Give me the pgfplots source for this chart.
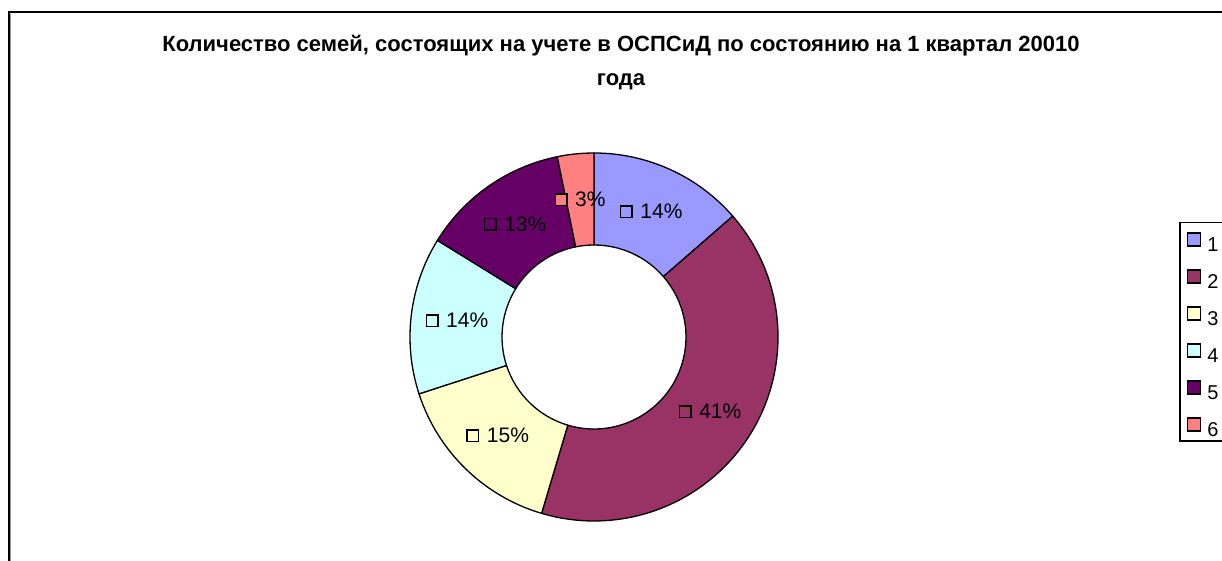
\documentclass[border=0pt]{standalone}
\usepackage{pgfplots}
\pgfplotsset{compat=1.18}
\usepackage{pgfplotstable}
\usepackage{fontspec}
\setmainfont{Liberation Sans}
\definecolor{c1}{HTML}{9999FF}
\definecolor{c2}{HTML}{993366}
\definecolor{c3}{HTML}{FFFFCC}
\definecolor{c4}{HTML}{CCFFFF}
\definecolor{c5}{HTML}{660066}
\definecolor{c6}{HTML}{FF8080}

\pgfplotstableread{
idx val
1 13.6
2 41.0
3 15.4
4 13.8
5 13.0
6 3.2
}\donutdata

\newcommand\lbl[2]{{\setlength\fboxrule{1.5pt}\setlength\fboxsep{0pt}\raisebox{2pt}{\fcolorbox{black}{#1}{\rule{0pt}{10pt}\rule{10pt}{0pt}}}}\hspace{7.5pt}#2\%}
\newcommand\lbfont{\fontsize{21}{25}\selectfont}

\begin{document}
\begin{tikzpicture}
\useasboundingbox (0,0) rectangle (1222pt,560pt);
\clip (0,0) rectangle (1222pt,560pt);
\begin{axis}[
  at={(0,0)}, anchor=south west,
  scale only axis, width=1222pt, height=560pt,
  xmin=0, xmax=1222, ymin=0, ymax=560,
  hide axis, clip=false,
  legend style={at={(axis cs:1179,338)}, anchor=north west, draw=black, line width=1.5pt, fill=white,
    font=\fontsize{20}{23}\selectfont, inner xsep=7pt, inner ysep=2.5pt, row sep=9pt, column sep=4pt,
    nodes={inner sep=2pt, text height=24pt, text depth=0pt}},
  legend cell align=left,
]
\fill[white] (axis cs:0,0) rectangle (axis cs:1222,560);
\draw[black!40, line width=1pt] (axis cs:10.8,546) -- (axis cs:10.8,-20);
\draw[black, line width=2pt] (axis cs:1300,547.5) -- (axis cs:8.5,547.5) -- (axis cs:8.5,-20);

\addlegendimage{legend image code/.code={\draw[fill=c1, draw=black, line width=1.5pt] (0pt,-6.5pt) rectangle (13pt,6.5pt);}}
\addlegendentry{1}
\addlegendimage{legend image code/.code={\draw[fill=c2, draw=black, line width=1.5pt] (0pt,-6.5pt) rectangle (13pt,6.5pt);}}
\addlegendentry{2}
\addlegendimage{legend image code/.code={\draw[fill=c3, draw=black, line width=1.5pt] (0pt,-6.5pt) rectangle (13pt,6.5pt);}}
\addlegendentry{3}
\addlegendimage{legend image code/.code={\draw[fill=c4, draw=black, line width=1.5pt] (0pt,-6.5pt) rectangle (13pt,6.5pt);}}
\addlegendentry{4}
\addlegendimage{legend image code/.code={\draw[fill=c5, draw=black, line width=1.5pt] (0pt,-6.5pt) rectangle (13pt,6.5pt);}}
\addlegendentry{5}
\addlegendimage{legend image code/.code={\draw[fill=c6, draw=black, line width=1.5pt] (0pt,-6.5pt) rectangle (13pt,6.5pt);}}
\addlegendentry{6}

\pgfplotstablegetrowsof{\donutdata}
\pgfmathtruncatemacro{\nrows}{\pgfplotsretval-1}
\def\cum{0}
\pgfplotsforeachungrouped \i in {0,...,\nrows}{%
  \pgfplotstablegetelem{\i}{val}\of{\donutdata}%
  \let\v\pgfplotsretval
  \pgfmathsetmacro{\aS}{90-3.6*\cum}%
  \pgfmathsetmacro{\aE}{90-3.6*(\cum+\v)}%
  \pgfmathsetmacro{\aM}{(\aS+\aE)/2}%
  \pgfmathsetmacro{\xo}{594+184*cos(\aS)}%
  \pgfmathsetmacro{\yo}{223+184*sin(\aS)}%
  \pgfmathsetmacro{\xi}{594+92*cos(\aE)}%
  \pgfmathsetmacro{\yi}{223+92*sin(\aE)}%
  \pgfmathsetmacro{\xm}{594+138*cos(\aM)}%
  \pgfmathsetmacro{\ym}{223+138*sin(\aM)}%
  \pgfmathtruncatemacro{\k}{\i+1}%
  \pgfmathtruncatemacro{\pct}{round(\v)}%
  \edef\temp{\noexpand\filldraw[fill=c\k, draw=black, line width=1.3pt, line join=round] (axis cs:\xo,\yo) arc[start angle=\aS, end angle=\aE, radius=184] -- (axis cs:\xi,\yi) arc[start angle=\aE, end angle=\aS, radius=92] -- cycle;}%
  \temp
  \edef\temp{\noexpand\node[font=\noexpand\lbfont, inner sep=0pt] at (axis cs:\xm,\ym) {\noexpand\lbl{c\k}{\pct}};}%
  \temp
  \pgfmathsetmacro{\cum}{\cum+\v}%
}

\node[anchor=base, font=\bfseries\fontsize{22}{26}\selectfont, inner sep=0pt] at (axis cs:621,508) {Количество семей, состоящих на учете в ОСПСиД по состоянию на 1 квартал 20010};
\node[anchor=base, font=\bfseries\fontsize{22}{26}\selectfont, inner sep=0pt] at (axis cs:621,474) {года};
\end{axis}
\end{tikzpicture}
\end{document}
